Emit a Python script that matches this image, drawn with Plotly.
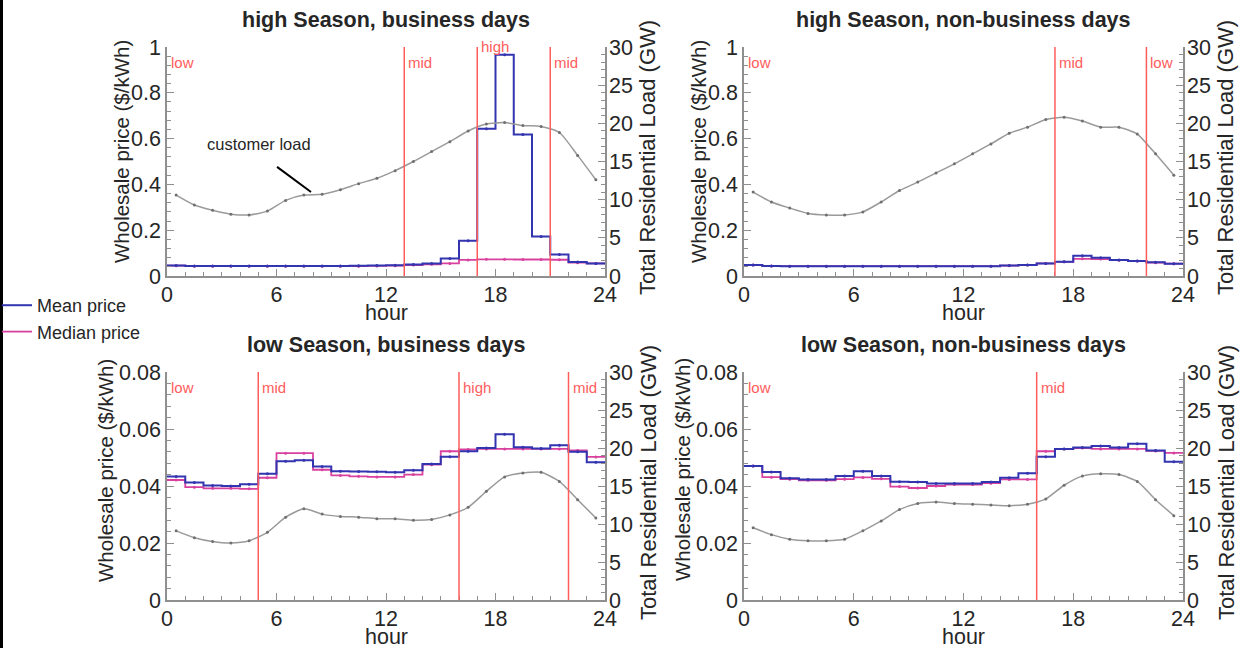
import plotly.graph_objects as go

# ---------------- data ----------------
hour_edges = list(range(25))
load_hours = [h + 0.5 for h in range(24)]

panel_titles = [
    "high Season, business days",
    "high Season, non-business days",
    "low Season, business days",
    "low Season, non-business days",
]

# high season, business days
mean_hb = [0.046, 0.044, 0.044, 0.044, 0.044, 0.044, 0.044, 0.044, 0.044, 0.044, 0.045, 0.046,
           0.047, 0.050, 0.055, 0.076, 0.154, 0.643, 0.966, 0.618, 0.172, 0.094, 0.061, 0.055]
median_hb = [0.045, 0.043, 0.043, 0.043, 0.043, 0.043, 0.043, 0.043, 0.043, 0.043, 0.043, 0.044,
             0.045, 0.048, 0.051, 0.055, 0.070, 0.073, 0.073, 0.072, 0.072, 0.071, 0.058, 0.055]
load_hb = [10.6, 9.3, 8.6, 8.1, 8.0, 8.5, 9.9, 10.6, 10.7, 11.3, 12.1, 12.8,
           13.8, 15.0, 16.3, 17.6, 19.0, 19.9, 20.1, 19.7, 19.6, 18.8, 15.8, 12.6]

# high season, non-business days
mean_hn = [0.048, 0.044, 0.043, 0.043, 0.043, 0.043, 0.043, 0.043, 0.043, 0.043, 0.043, 0.043,
           0.043, 0.043, 0.046, 0.048, 0.055, 0.062, 0.088, 0.080, 0.070, 0.066, 0.060, 0.054]
median_hn = [0.048, 0.044, 0.043, 0.043, 0.043, 0.043, 0.043, 0.043, 0.043, 0.043, 0.043, 0.043,
             0.043, 0.043, 0.045, 0.048, 0.055, 0.062, 0.075, 0.074, 0.069, 0.065, 0.058, 0.054]
load_hn = [11.0, 9.7, 8.9, 8.2, 8.0, 8.0, 8.4, 9.7, 11.2, 12.3, 13.5, 14.7,
           16.0, 17.3, 18.7, 19.5, 20.5, 20.8, 20.3, 19.5, 19.5, 18.6, 16.0, 13.2]

# low season, business days
mean_lb = [0.0433, 0.0412, 0.0402, 0.0400, 0.0406, 0.0443, 0.0487, 0.0490, 0.0468, 0.0452, 0.0451, 0.0450,
           0.0448, 0.0455, 0.0477, 0.0503, 0.0522, 0.0533, 0.0582, 0.0536, 0.0532, 0.0543, 0.0520, 0.0483]
median_lb = [0.0421, 0.0396, 0.0392, 0.0392, 0.0390, 0.0429, 0.0515, 0.0515, 0.0457, 0.0437, 0.0434, 0.0432,
             0.0432, 0.0440, 0.0475, 0.0522, 0.0528, 0.0530, 0.0530, 0.0530, 0.0530, 0.0530, 0.0525, 0.0502]
load_lb = [9.1, 8.2, 7.7, 7.5, 7.8, 8.9, 10.9, 12.0, 11.3, 11.0, 10.9, 10.7,
           10.7, 10.5, 10.6, 11.2, 12.2, 14.3, 16.2, 16.7, 16.8, 15.6, 13.2, 10.8]

# low season, non-business days
mean_ln = [0.0470, 0.0449, 0.0427, 0.0423, 0.0423, 0.0435, 0.0452, 0.0435, 0.0415, 0.0414, 0.0409, 0.0409,
           0.0409, 0.0414, 0.0429, 0.0445, 0.0503, 0.0530, 0.0535, 0.0540, 0.0535, 0.0548, 0.0525, 0.0485]
median_ln = [0.0470, 0.0431, 0.0424, 0.0420, 0.0420, 0.0424, 0.0430, 0.0425, 0.0398, 0.0393, 0.0400, 0.0405,
             0.0405, 0.0410, 0.0423, 0.0423, 0.0522, 0.0530, 0.0533, 0.0530, 0.0530, 0.0530, 0.0523, 0.0516]
load_ln = [9.5, 8.6, 8.0, 7.8, 7.8, 8.0, 9.1, 10.4, 11.9, 12.7, 12.9, 12.7,
           12.6, 12.5, 12.4, 12.6, 13.3, 15.1, 16.3, 16.6, 16.5, 15.6, 13.2, 11.1]

# tariff period boundaries and labels (label at hour 0 first)
bounds_hb = [13, 17, 21]
labels_hb = ["low", "mid", "high", "mid"]
bounds_hn = [17, 22]
labels_hn = ["low", "mid", "low"]
bounds_lb = [5, 16, 22]
labels_lb = ["low", "mid", "high", "mid"]
bounds_ln = [16]
labels_ln = ["low", "mid"]

price_max_high = 1.0
price_max_low = 0.08
load_max = 30

# ---------------- styling ----------------
W, H = 1240, 648
BLUE = "#3335b0"
MAGENTA = "#d8429e"
RED = "#ff5c5c"
GRAY = "#9a9a9a"
DOT = "#707070"
TXT = "#262626"
AXC = "#8f8f8f"
FONT = "Liberation Sans, Arial, sans-serif"
TICKSIZE = 21.5


def px_x(p):
    return p / W


def px_y(p):
    return 1 - p / H


panels = [
    dict(mean=mean_hb, median=median_hb, load=load_hb, bounds=bounds_hb, labels=labels_hb,
         ymax=price_max_high, yminor=0.04, fmt=None, ytitle=(122, 152),
         xd=(167, 605), yd=(47, 276)),
    dict(mean=mean_hn, median=median_hn, load=load_hn, bounds=bounds_hn, labels=labels_hn,
         ymax=price_max_high, yminor=0.04, fmt=None, ytitle=(699, 152),
         xd=(744, 1183), yd=(47, 276)),
    dict(mean=mean_lb, median=median_lb, load=load_lb, bounds=bounds_lb, labels=labels_lb,
         ymax=price_max_low, yminor=0.004, fmt=".2f", ytitle=(105, 470),
         xd=(167, 605), yd=(372, 600)),
    dict(mean=mean_ln, median=median_ln, load=load_ln, bounds=bounds_ln, labels=labels_ln,
         ymax=price_max_low, yminor=0.004, fmt=".2f", ytitle=(682, 470),
         xd=(744, 1183), yd=(372, 600)),
]

fig = go.Figure()
layout = dict(
    width=W, height=H,
    margin=dict(l=0, r=0, t=0, b=0, autoexpand=False),
    paper_bgcolor="white", plot_bgcolor="white",
    font=dict(family=FONT, color=TXT),
    showlegend=True,
    hovermode=False,
    legend=dict(x=-3 / W, y=px_y(287), xanchor="left", yanchor="top",
                font=dict(size=18, color=TXT), bgcolor="rgba(0,0,0,0)",
                itemwidth=30, tracegroupgap=0),
)
annotations = []
shapes = []

for i, p in enumerate(panels):
    n = i + 1
    xa = "x" if n == 1 else f"x{n}"
    ya_l = "y" if n == 1 else f"y{2*n-1}"
    ya_r = f"y{2*n}"
    xa_key = "xaxis" if n == 1 else f"xaxis{n}"
    yl_key = "yaxis" if n == 1 else f"yaxis{2*n-1}"
    yr_key = f"yaxis{2*n}"

    xdom = [px_x(p["xd"][0]), px_x(p["xd"][1])]
    ydom = [px_y(p["yd"][1]), px_y(p["yd"][0])]

    # customer load curve (right axis)
    fig.add_trace(go.Scatter(
        x=load_hours, y=p["load"], xaxis=xa, yaxis=ya_r,
        mode="lines+markers", line=dict(color=GRAY, width=1.5, shape="spline", smoothing=0.6),
        marker=dict(size=3, color=DOT), showlegend=False))
    # median and mean price steps (left axis)
    fig.add_trace(go.Scatter(
        x=hour_edges, y=p["median"] + [p["median"][-1]], xaxis=xa, yaxis=ya_l,
        mode="lines", line=dict(color=MAGENTA, width=1.8, shape="hv"),
        name="Median price", legendrank=2, showlegend=(n == 1)))
    fig.add_trace(go.Scatter(
        x=load_hours, y=p["median"], xaxis=xa, yaxis=ya_l, mode="markers",
        marker=dict(size=3, color=MAGENTA), showlegend=False))
    fig.add_trace(go.Scatter(
        x=hour_edges, y=p["mean"] + [p["mean"][-1]], xaxis=xa, yaxis=ya_l,
        mode="lines", line=dict(color=BLUE, width=2, shape="hv"),
        name="Mean price", legendrank=1, showlegend=(n == 1)))
    fig.add_trace(go.Scatter(
        x=load_hours, y=p["mean"], xaxis=xa, yaxis=ya_l, mode="markers",
        marker=dict(size=3, color=BLUE), showlegend=False))

    layout[xa_key] = dict(
        domain=xdom, anchor=ya_l, range=[0, 24], tickvals=[0, 6, 12, 18, 24],
        ticks="inside", ticklen=7, tickcolor=AXC, showline=True, linecolor=AXC, linewidth=1.5,
        showgrid=False, zeroline=False, tickfont=dict(size=TICKSIZE, color=TXT),
        ticklabelstandoff=-2,
        minor=dict(dtick=1, tick0=0, ticks="inside", ticklen=4, tickcolor=AXC),
    )
    yl = dict(
        domain=ydom, anchor=xa, range=[0, p["ymax"]], tick0=0,
        ticks="inside", ticklen=7, tickcolor=AXC, showline=True, linecolor=AXC, linewidth=1.5,
        showgrid=False, zeroline=False, tickfont=dict(size=TICKSIZE, color=TXT),
        minor=dict(dtick=p["yminor"], tick0=0, ticks="inside", ticklen=4, tickcolor=AXC),
    )
    if p["fmt"]:
        yl["tickvals"] = [0, 0.02, 0.04, 0.06, 0.08]
        yl["ticktext"] = ["0", "0.02", "0.04", "0.06", "0.08"]
    else:
        yl["tickvals"] = [0, 0.2, 0.4, 0.6, 0.8, 1]
        yl["ticktext"] = ["0", "0.2", "0.4", "0.6", "0.8", "1"]
    layout[yl_key] = yl
    layout[yr_key] = dict(
        overlaying=ya_l, side="right", anchor=xa, range=[0, load_max], dtick=5, tick0=0,
        ticks="inside", ticklen=7, tickcolor=AXC, showline=True, linecolor=AXC, linewidth=1.5,
        showgrid=False, zeroline=False, tickfont=dict(size=TICKSIZE, color=TXT),
        ticklabelstandoff=-2,
        minor=dict(dtick=1, tick0=0, ticks="inside", ticklen=4, tickcolor=AXC),
    )

    # tariff period lines and labels
    for b in p["bounds"]:
        shapes.append(dict(type="line", xref=xa, yref=f"{ya_l} domain", x0=b, x1=b, y0=0, y1=1,
                           line=dict(color=RED, width=1.5)))
    span = p["yd"][1] - p["yd"][0]
    base_label_px = 62 if i < 2 else 387
    starts = [0] + p["bounds"]
    for s, lab in zip(starts, p["labels"]):
        lp = base_label_px
        if i == 0 and lab == "high":
            lp = 46
        annotations.append(dict(x=s, y=(p["yd"][1] - lp) / span, xref=xa, yref=f"{ya_l} domain",
                                text=lab, showarrow=False, xanchor="left", yanchor="middle",
                                xshift=2, font=dict(size=15, color=RED)))

    # titles and axis labels
    cx = (p["xd"][0] + p["xd"][1]) / 2
    annotations.append(dict(x=px_x(cx), y=px_y(p["yd"][0] - 27), xref="paper", yref="paper",
                            text=f"<b>{panel_titles[i]}</b>", showarrow=False,
                            xanchor="center", yanchor="middle", font=dict(size=21.5, color=TXT)))
    annotations.append(dict(x=px_x(cx), y=px_y(p["yd"][1] + 37), xref="paper", yref="paper",
                            text="hour", showarrow=False, xanchor="center", yanchor="middle",
                            font=dict(size=21.5, color=TXT)))
    annotations.append(dict(x=px_x(p["ytitle"][0]), y=px_y(p["ytitle"][1]), xref="paper", yref="paper",
                            text="Wholesale price ($/kWh)", showarrow=False, textangle=-90,
                            xanchor="center", yanchor="middle", font=dict(size=20.5, color=TXT)))
    annotations.append(dict(x=px_x(p["xd"][1] + 43), y=px_y(p["yd"][0] + 111), xref="paper",
                            yref="paper", text="Total Residential Load (GW)", showarrow=False,
                            textangle=-90, xanchor="center", yanchor="middle",
                            font=dict(size=22, color=TXT)))

# "customer load" callout in first panel
annotations.append(dict(x=5.04, y=17.3, xref="x", yref="y2", text="customer load",
                        showarrow=False, xanchor="center", yanchor="middle",
                        font=dict(size=16.5, color=TXT)))
shapes.append(dict(type="line", xref="x", yref="y2", x0=6.03, y0=14.3, x1=7.89, y1=11.0,
                   line=dict(color="black", width=2)))

# left-edge frame line of the reference image
shapes.append(dict(type="rect", xref="paper", yref="paper", x0=0, x1=3 / W, y0=0, y1=1,
                   line=dict(width=0), fillcolor="black"))

layout["annotations"] = annotations
layout["shapes"] = shapes
fig.update_layout(**layout)

fig.write_html(
    "out.html",
    config={"displayModeBar": False},
    post_script="document.body.style.margin='0';document.body.style.padding='0';"
                "document.documentElement.style.overflow='hidden';",
)
